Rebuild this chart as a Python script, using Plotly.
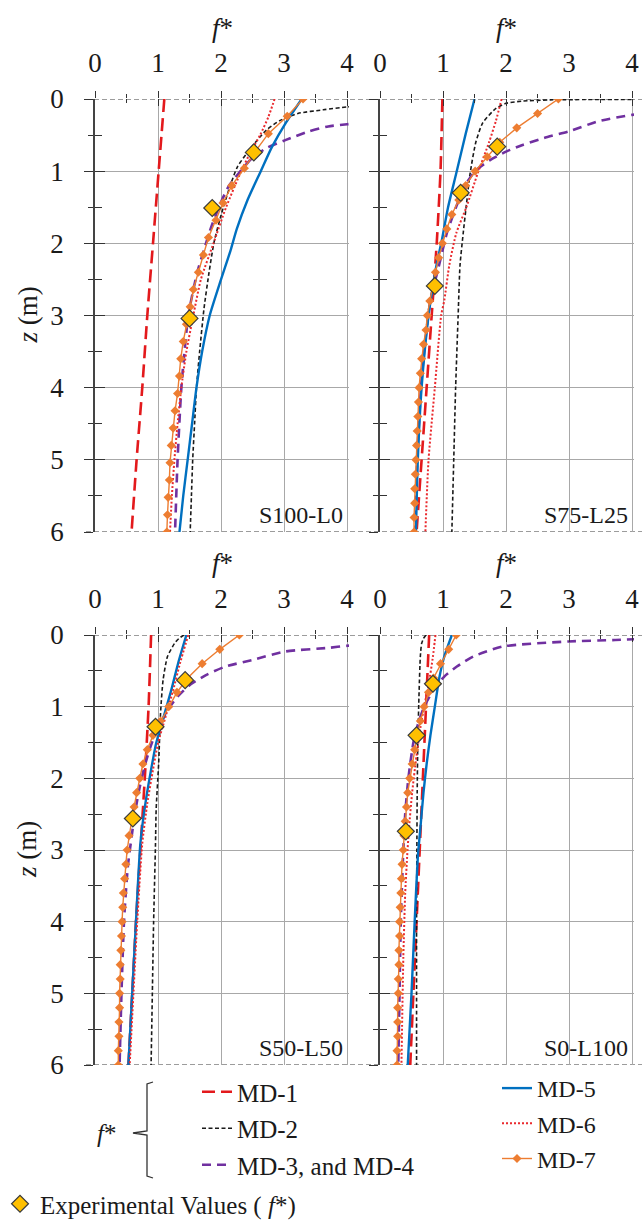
import plotly.graph_objects as go

FONT = "'Liberation Serif', 'Times New Roman', 'DejaVu Serif', serif"

# ---------------- data ----------------
PANELS = ["S100-L0", "S75-L25", "S50-L50", "S0-L100"]
X_TICKS = [0, 1, 2, 3, 4]
Z_TICKS = [0, 1, 2, 3, 4, 5, 6]

Z_MD1 = [0, 1, 2, 3, 4, 5, 6]
P1_MD1 = [1.10, 1.01, 0.92, 0.83, 0.75, 0.66, 0.58]
P2_MD1 = [0.99, 0.96, 0.90, 0.82, 0.74, 0.66, 0.58]
P3_MD1 = [0.89, 0.85, 0.79, 0.72, 0.65, 0.59, 0.53]
P4_MD1 = [0.78, 0.73, 0.68, 0.63, 0.58, 0.53, 0.48]

P1_MD2_Z = [0.08, 0.11, 0.15, 0.2, 0.3, 0.43, 0.66, 0.94, 1.24, 1.61, 1.98, 2.4, 2.9, 3.5, 4.0, 4.5, 5.0, 5.5, 6.0]
P1_MD2_F = [4.6, 4.0, 3.62, 3.22, 2.93, 2.72, 2.49, 2.26, 2.13, 2.0, 1.89, 1.81, 1.73, 1.66, 1.61, 1.58, 1.55, 1.53, 1.51]
P2_MD2_Z = [0.004, 0.012, 0.03, 0.06, 0.13, 0.33, 0.6, 1.03, 1.47, 1.86, 2.3, 3.0, 4.0, 5.0, 6.0]
P2_MD2_F = [4.3, 2.7, 2.25, 2.0, 1.84, 1.63, 1.52, 1.43, 1.37, 1.32, 1.27, 1.24, 1.20, 1.17, 1.14]
P3_MD2_Z = [0, 0.05, 0.12, 0.3, 0.63, 1.09, 1.79, 2.44, 2.91, 4.0, 5.0, 6.0]
P3_MD2_F = [1.41, 1.33, 1.26, 1.15, 1.08, 1.04, 1.01, 0.97, 0.96, 0.93, 0.91, 0.89]
P4_MD2_Z = [0, 0.05, 0.12, 0.3, 0.8, 1.5, 2.2, 3.0, 4.0, 5.0, 6.0]
P4_MD2_F = [0.73, 0.69, 0.66, 0.64, 0.62, 0.60, 0.59, 0.585, 0.58, 0.58, 0.58]

P1_MD3_Z = [0.3, 0.35, 0.38, 0.45, 0.57, 0.68, 0.82, 1.03, 1.21, 1.49, 1.81, 2.09, 2.41, 3.0, 3.5, 4.0, 5.0, 6.0]
P1_MD3_F = [4.5, 4.0, 3.7, 3.39, 3.02, 2.72, 2.49, 2.28, 2.12, 1.97, 1.83, 1.73, 1.62, 1.48, 1.42, 1.37, 1.31, 1.27]
P2_MD3_Z = [0.18, 0.22, 0.31, 0.45, 0.54, 0.64, 0.73, 0.85, 0.99, 1.17, 1.49, 1.86, 2.33, 2.79, 3.5, 4.0, 5.0, 6.0]
P2_MD3_F = [4.6, 4.0, 3.46, 2.99, 2.6, 2.25, 2.0, 1.74, 1.52, 1.37, 1.21, 1.06, 0.93, 0.80, 0.70, 0.65, 0.59, 0.56]
P3_MD3_Z = [0.12, 0.15, 0.18, 0.23, 0.35, 0.44, 0.56, 0.7, 0.86, 1.05, 1.28, 1.51, 1.79, 2.12, 2.5, 2.82, 3.24, 4.0, 5.0, 6.0]
P3_MD3_F = [4.6, 4.0, 3.7, 3.02, 2.49, 2.07, 1.76, 1.50, 1.31, 1.15, 1.02, 0.90, 0.80, 0.71, 0.63, 0.58, 0.52, 0.46, 0.42, 0.39]
P4_MD3_Z = [0.05, 0.07, 0.09, 0.16, 0.3, 0.44, 0.58, 0.72, 1.0, 1.25, 1.5, 2.0, 2.5, 3.0, 4.0, 5.0, 6.0]
P4_MD3_F = [4.3, 3.73, 2.99, 1.95, 1.48, 1.22, 1.02, 0.88, 0.70, 0.60, 0.53, 0.45, 0.40, 0.37, 0.33, 0.31, 0.29]

P1_MD5_Z = [0, 0.34, 0.66, 1.0, 1.4, 1.8, 2.1, 2.5, 3.0, 3.5, 4.0, 4.5, 5.0, 5.5, 6.0]
P1_MD5_F = [3.28, 3.02, 2.81, 2.63, 2.42, 2.25, 2.15, 2.0, 1.82, 1.70, 1.61, 1.54, 1.47, 1.40, 1.34]
P2_MD5_Z = [0, 0.48, 1.03, 1.5, 1.96, 2.33, 2.7, 3.0, 4.0, 5.0, 6.0]
P2_MD5_F = [1.50, 1.36, 1.21, 1.08, 0.98, 0.89, 0.82, 0.77, 0.66, 0.60, 0.57]
P3_MD5_Z = [0, 0.39, 0.77, 1.14, 1.51, 1.88, 2.35, 2.91, 4.0, 5.0, 6.0]
P3_MD5_F = [1.45, 1.32, 1.21, 1.09, 0.97, 0.89, 0.80, 0.72, 0.65, 0.59, 0.53]
P4_MD5_Z = [0, 0.3, 0.6, 1.0, 1.4, 1.8, 2.2, 2.7, 3.1, 4.0, 5.0, 6.0]
P4_MD5_F = [1.14, 1.02, 0.94, 0.87, 0.80, 0.74, 0.69, 0.64, 0.60, 0.55, 0.50, 0.44]

P1_MD6_Z = [0, 0.25, 0.5, 0.75, 1.0, 1.5, 2.0, 2.5, 3.0, 3.5, 4.0, 4.5, 5.0, 5.5, 6.0]
P1_MD6_F = [2.85, 2.75, 2.62, 2.46, 2.32, 2.08, 1.88, 1.68, 1.56, 1.45, 1.37, 1.31, 1.26, 1.22, 1.19]
P2_MD6_Z = [0, 0.3, 0.6, 1.03, 1.5, 1.86, 2.3, 2.79, 3.0, 4.0, 5.0, 6.0]
P2_MD6_F = [1.93, 1.84, 1.73, 1.55, 1.37, 1.21, 1.10, 1.02, 0.97, 0.87, 0.77, 0.72]
P3_MD6_Z = [0, 0.39, 0.77, 1.14, 1.51, 1.88, 2.35, 2.91, 4.0, 5.0, 6.0]
P3_MD6_F = [1.48, 1.35, 1.24, 1.12, 1.00, 0.92, 0.83, 0.75, 0.67, 0.61, 0.55]
P4_MD6_Z = [0, 0.3, 0.7, 1.0, 1.3, 1.75, 2.2, 2.7, 3.1, 3.6, 4.5, 6.0]
P4_MD6_F = [0.88, 0.84, 0.77, 0.70, 0.64, 0.57, 0.51, 0.46, 0.43, 0.40, 0.37, 0.34]

P1_MD7_Z = [0, 0.24, 0.48, 0.72, 0.96, 1.2, 1.44, 1.68, 1.92, 2.16, 2.4, 2.64, 2.88,
            3.12, 3.36, 3.6, 3.84, 4.08, 4.32, 4.56, 4.8, 5.04, 5.28, 5.52, 5.76, 6.0]
P1_MD7_F = [3.30, 3.05, 2.75, 2.55, 2.37, 2.17, 2.03, 1.92, 1.80, 1.72, 1.64, 1.56, 1.51,
            1.45, 1.40, 1.36, 1.34, 1.31, 1.27, 1.24, 1.21, 1.19, 1.18, 1.16, 1.15, 1.14]
MD7_Z = [0, 0.2, 0.4, 0.6, 0.8, 1.0, 1.2, 1.4, 1.6, 1.8, 2.0, 2.2, 2.4, 2.6, 2.8, 3.0,
         3.2, 3.4, 3.6, 3.8, 4.0, 4.2, 4.4, 4.6, 4.8, 5.0, 5.2, 5.4, 5.6, 5.8, 6.0]
P2_MD7_F = [2.83, 2.50, 2.17, 1.90, 1.70, 1.51, 1.36, 1.25, 1.14, 1.06, 0.99, 0.93, 0.88, 0.83, 0.79, 0.75,
            0.73, 0.69, 0.66, 0.64, 0.62, 0.61, 0.60, 0.59, 0.58, 0.57, 0.56, 0.55, 0.55, 0.54, 0.54]
P3_MD7_F = [2.29, 1.98, 1.70, 1.47, 1.30, 1.17, 1.04, 0.92, 0.83, 0.76, 0.71, 0.66, 0.62, 0.58, 0.54, 0.51,
            0.49, 0.47, 0.45, 0.44, 0.43, 0.42, 0.41, 0.40, 0.40, 0.39, 0.39, 0.38, 0.38, 0.37, 0.37]
P4_MD7_F = [1.21, 1.09, 0.96, 0.85, 0.77, 0.70, 0.64, 0.59, 0.55, 0.51, 0.47, 0.44, 0.42, 0.40, 0.38, 0.37,
            0.35, 0.34, 0.33, 0.32, 0.31, 0.31, 0.30, 0.30, 0.29, 0.29, 0.28, 0.28, 0.28, 0.27, 0.27]

P1_EXP_Z = [0.74, 1.51, 3.04]
P1_EXP_F = [2.52, 1.86, 1.50]
P2_EXP_Z = [0.66, 1.30, 2.59]
P2_EXP_F = [1.86, 1.28, 0.87]
P3_EXP_Z = [0.63, 1.28, 2.56]
P3_EXP_F = [1.43, 0.96, 0.60]
P4_EXP_Z = [0.68, 1.40, 2.74]
P4_EXP_F = [0.84, 0.58, 0.41]

# ---------------- assemble ----------------
PANEL_DATA = [
    dict(md1=(Z_MD1, P1_MD1), md2=(P1_MD2_Z, P1_MD2_F), md3=(P1_MD3_Z, P1_MD3_F),
         md5=(P1_MD5_Z, P1_MD5_F), md6=(P1_MD6_Z, P1_MD6_F), md7=(P1_MD7_Z, P1_MD7_F),
         exp=(P1_EXP_Z, P1_EXP_F)),
    dict(md1=(Z_MD1, P2_MD1), md2=(P2_MD2_Z, P2_MD2_F), md3=(P2_MD3_Z, P2_MD3_F),
         md5=(P2_MD5_Z, P2_MD5_F), md6=(P2_MD6_Z, P2_MD6_F), md7=(MD7_Z, P2_MD7_F),
         exp=(P2_EXP_Z, P2_EXP_F)),
    dict(md1=(Z_MD1, P3_MD1), md2=(P3_MD2_Z, P3_MD2_F), md3=(P3_MD3_Z, P3_MD3_F),
         md5=(P3_MD5_Z, P3_MD5_F), md6=(P3_MD6_Z, P3_MD6_F), md7=(MD7_Z, P3_MD7_F),
         exp=(P3_EXP_Z, P3_EXP_F)),
    dict(md1=(Z_MD1, P4_MD1), md2=(P4_MD2_Z, P4_MD2_F), md3=(P4_MD3_Z, P4_MD3_F),
         md5=(P4_MD5_Z, P4_MD5_F), md6=(P4_MD6_Z, P4_MD6_F), md7=(MD7_Z, P4_MD7_F),
         exp=(P4_EXP_Z, P4_EXP_F)),
]

SERIES = [
    ("md1", "MD-1", "legend", dict(color="#E3191C", width=2.6, dash="13px,6px"), "lines"),
    ("md2", "MD-2", "legend", dict(color="#1A1A1A", width=1.6, dash="4px,2.5px"), "lines"),
    ("md3", "MD-3, and MD-4", "legend", dict(color="#7030A0", width=2.6, dash="9px,6px"), "lines"),
    ("md5", "MD-5", "legend2", dict(color="#0070C0", width=2.4), "lines"),
    ("md6", "MD-6", "legend2", dict(color="#EA2A2E", width=2.0, dash="2px,2px"), "lines"),
    ("md7", "MD-7", "legend2", dict(color="#ED7D31", width=1.4), "lines+markers"),
]

W, H = 642, 1222
XDOM = [[95 / W, 349 / W], [380 / W, 634 / W]]
YDOM = [[1 - 532 / H, 1 - 99 / H], [1 - 1065 / H, 1 - 635 / H]]
XR = [0, 4.03]
ZR = [6, 0]

fig = go.Figure()
layout = {}
TICKC = "#333333"
GRIDC = "#A8A8A8"
tickfont = dict(family=FONT, size=27, color="#1a1a1a")

for i, pdata in enumerate(PANEL_DATA):
    n = i + 1
    xa = "x" if n == 1 else f"x{n}"
    ya = "y" if n == 1 else f"y{n}"
    xin, yin = f"x{n + 4}", f"y{n + 4}"
    col, row = i % 2, i // 2
    for key, name, leg, line, mode in SERIES:
        z, f = pdata[key]
        kw = dict(x=f, y=z, name=name, mode=mode, xaxis=xa, yaxis=ya,
                  legend=leg, legendgroup=name, showlegend=(i == 0),
                  line=dict(**line), hoverinfo="skip")
        if mode == "lines":
            kw["line"]["shape"] = "spline"
            kw["line"]["smoothing"] = 0.6
        else:
            kw["marker"] = dict(symbol="diamond", size=7, color="#ED7D31")
        fig.add_trace(go.Scatter(**kw))
    ez, ef = pdata["exp"]
    fig.add_trace(go.Scatter(
        x=ef, y=ez, mode="markers", xaxis=xa, yaxis=ya,
        name="Experimental Values ( <i>f</i>*)", legend="legend3",
        legendgroup="exp", showlegend=(i == 0), hoverinfo="skip",
        marker=dict(symbol="diamond", size=13, color="#FFC000",
                    line=dict(color="#3a3a3a", width=1.2))))
    # empty trace to register the inside-tick overlay axes
    fig.add_trace(go.Scatter(x=[], y=[], xaxis=xin, yaxis=yin, showlegend=False,
                             hoverinfo="skip"))

    xkey = "xaxis" if n == 1 else f"xaxis{n}"
    ykey = "yaxis" if n == 1 else f"yaxis{n}"
    layout[xkey] = dict(
        domain=XDOM[col], anchor=ya, side="top", range=XR, automargin=False,
        tickmode="array", tickvals=X_TICKS, ticks="outside", ticklen=7, tickwidth=1.2,
        tickcolor=TICKC, minor=dict(dtick=0.5, tick0=0, ticks="outside", ticklen=4,
                                    tickwidth=1.2, tickcolor=TICKC, showgrid=False),
        showgrid=True, gridcolor=GRIDC, gridwidth=1.2, zeroline=False, showline=False,
        tickfont=tickfont, ticklabelstandoff=8)
    layout[ykey] = dict(
        domain=YDOM[row], anchor=xa, range=ZR, automargin=False,
        tickmode="array", tickvals=Z_TICKS, ticks="outside", ticklen=9, tickwidth=1.2,
        tickcolor=TICKC, minor=dict(dtick=0.5, tick0=0, ticks="outside", ticklen=5,
                                    tickwidth=1.2, tickcolor=TICKC, showgrid=False),
        showgrid=True, gridcolor=GRIDC, gridwidth=1.2, zeroline=False,
        showline=True, linecolor="#444444", linewidth=1.6,
        showticklabels=(col == 0), tickfont=tickfont, ticklabelstandoff=15)
    layout[f"xaxis{n + 4}"] = dict(
        overlaying=xa, anchor=ya, side="top", range=XR, automargin=False,
        tickmode="array", tickvals=X_TICKS, ticks="inside", ticklen=7, tickwidth=1.2,
        tickcolor=TICKC, minor=dict(dtick=0.5, tick0=0, ticks="inside", ticklen=4,
                                    tickwidth=1.2, tickcolor=TICKC, showgrid=False),
        showgrid=False, zeroline=False, showline=False, showticklabels=False)
    layout[f"yaxis{n + 4}"] = dict(
        overlaying=ya, anchor=xa, side="left", range=ZR, automargin=False,
        tickmode="array", tickvals=Z_TICKS, ticks="inside", ticklen=10, tickwidth=1.2,
        tickcolor=TICKC, minor=dict(dtick=0.5, tick0=0, ticks="inside", ticklen=7,
                                    tickwidth=1.2, tickcolor=TICKC, showgrid=False),
        showgrid=False, zeroline=False, showline=False, showticklabels=False)

annotations = []
for i, lab in enumerate(PANELS):
    n = i + 1
    xa = "x" if n == 1 else f"x{n}"
    ya = "y" if n == 1 else f"y{n}"
    row = i // 2
    annotations.append(dict(text=lab, xref=f"{xa} domain", yref=f"{ya} domain",
                            x=0.985, y=0.0, xanchor="right", yanchor="bottom", yshift=2,
                            showarrow=False, font=dict(family=FONT, size=24, color="#1a1a1a")))
    annotations.append(dict(text="<i>f</i>*", xref=f"{xa} domain", yref="paper",
                            x=0.5, y=(1 - 28 / H) if row == 0 else (1 - 563 / H),
                            xanchor="center", yanchor="middle", showarrow=False,
                            font=dict(family=FONT, size=27, color="#1a1a1a")))
for row in range(2):
    ya = "y" if row == 0 else "y3"
    annotations.append(dict(text="<i>z</i> (m)", xref="paper", yref=f"{ya} domain",
                            x=27 / W, y=0.5, xanchor="center", yanchor="middle",
                            textangle=-90, showarrow=False,
                            font=dict(family=FONT, size=27, color="#1a1a1a")))
annotations.append(dict(text="<i>f</i>*", xref="paper", yref="paper",
                        x=106 / W, y=1 - 1133 / H, xanchor="center", yanchor="middle",
                        showarrow=False, font=dict(family=FONT, size=25, color="#1a1a1a")))


def px(xp):
    return xp / W


def py(yp):
    return 1 - yp / H


shapes = []
for ya in ["y", "y3"]:
    for zv in [0, 6]:
        shapes.append(dict(type="line", xref="paper", yref=ya, x0=86 / W, x1=1.0,
                           y0=zv, y1=zv, layer="below",
                           line=dict(color="#3a3a3a", width=1.2, dash="5px,3px")))
bracket = (f"M {px(153)},{py(1082)} L {px(147)},{py(1084)} L {px(147)},{py(1131)} "
           f"L {px(133)},{py(1133)} L {px(147)},{py(1135)} L {px(147)},{py(1176)} "
           f"L {px(153)},{py(1178)}")
shapes.append(dict(type="path", xref="paper", yref="paper", path=bracket,
                   line=dict(color="#333333", width=1.3)))

legfont = dict(family=FONT, size=25, color="#1a1a1a")
legfont2 = dict(family=FONT, size=24, color="#1a1a1a")
fig.update_layout(
    width=W, height=H, margin=dict(l=0, r=0, t=0, b=0, autoexpand=False),
    paper_bgcolor="white", plot_bgcolor="white",
    annotations=annotations, shapes=shapes,
    legend=dict(x=197 / W, y=1 - 1069 / H, xanchor="left", yanchor="top", font=legfont,
                bgcolor="rgba(0,0,0,0)", traceorder="grouped", tracegroupgap=1),
    legend2=dict(x=497 / W, y=1 - 1066 / H, xanchor="left", yanchor="top", font=legfont2,
                 bgcolor="rgba(0,0,0,0)", traceorder="grouped", tracegroupgap=1),
    legend3=dict(x=0.0, y=1 - 1181 / H, xanchor="left", yanchor="top", font=legfont,
                 bgcolor="rgba(0,0,0,0)"),
    **layout,
)

fig.write_html("out.html")
